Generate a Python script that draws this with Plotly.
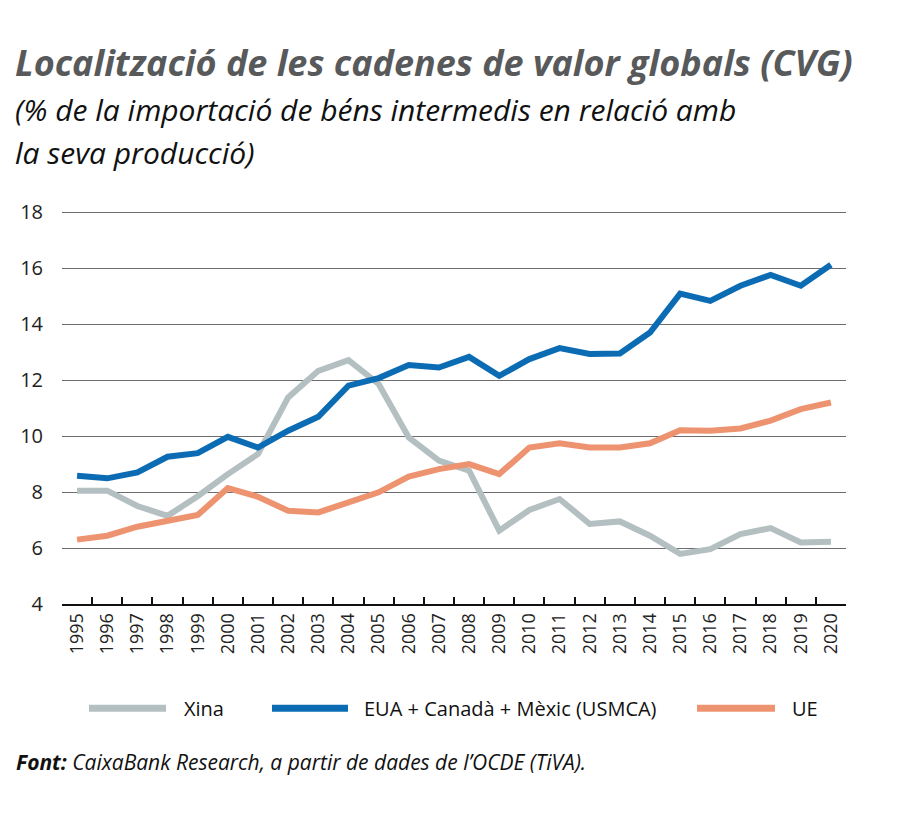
import plotly.graph_objects as go

years = [str(y) for y in range(1995, 2021)]
xina = [8.05, 8.05, 7.5, 7.15, 7.85, 8.64, 9.36, 11.38, 12.33, 12.71, 11.86, 9.95, 9.12, 8.76,
        6.62, 7.36, 7.75, 6.86, 6.95, 6.44, 5.79, 5.96, 6.5, 6.71, 6.2, 6.22]
usmca = [8.58, 8.49, 8.7, 9.26, 9.39, 9.97, 9.59, 10.19, 10.69, 11.8, 12.07, 12.54, 12.45, 12.83,
         12.15, 12.75, 13.14, 12.93, 12.95, 13.7, 15.09, 14.83, 15.37, 15.76, 15.37, 16.12]
ue = [6.3, 6.44, 6.76, 6.97, 7.18, 8.14, 7.83, 7.33, 7.27, 7.63, 7.99, 8.55, 8.82, 9.0,
      8.64, 9.59, 9.74, 9.59, 9.59, 9.74, 10.21, 10.19, 10.27, 10.55, 10.96, 11.2]
series_names = ["Xina", "EUA + Canadà + Mèxic (USMCA)", "UE"]
series_values = [xina, usmca, ue]
colors = ["#b4bfc2", "#0b6cb4", "#ee9370"]
y_ticks = [4, 6, 8, 10, 12, 14, 16, 18]

W, H = 900, 816
L, R, T, B = 62, 54, 212, 212
PW, PH = W - L - R, H - T - B


def px(x):
    return (x - L) / PW


def py(y):
    return (H - B - y) / PH


fig = go.Figure()
for name, vals, c in zip(series_names, series_values, colors):
    fig.add_trace(go.Scatter(x=years, y=vals, mode="lines", name=name,
                             line=dict(color=c, width=6), showlegend=False))

FONT = "Open Sans"
fig.update_layout(
    width=W, height=H,
    margin=dict(l=L, r=R, t=T - 1, b=B),
    paper_bgcolor="white", plot_bgcolor="white",
    font=dict(family=FONT, color="#222"),
    xaxis=dict(type="category", tickson="boundaries", ticks="inside", ticklen=7,
               tickcolor="#111", tickwidth=1.5, showline=True, linecolor="#111",
               linewidth=2, showgrid=False, tickangle=-90,
               tickfont=dict(size=18, color="#222"), range=[-0.5, 25.5]),
    yaxis=dict(range=[4, 18.04], tickvals=y_ticks, showgrid=True, gridcolor="#6d6d6d",
               gridwidth=1, zeroline=False, showline=False, ticks="",
               tickfont=dict(size=20, color="#222"), ticklabelstandoff=18),
)

ann = []
ann.append(dict(text="<b><i>Localització de les cadenes de valor globals (CVG)</i></b>",
                x=px(13), y=py(64), xref="paper", yref="paper", xanchor="left",
                yanchor="middle", showarrow=False,
                font=dict(family=FONT, size=36, color="#58595b")))
ann.append(dict(text="<i>(% de la importació de béns intermedis en relació amb</i>",
                x=px(13), y=py(111), xref="paper", yref="paper", xanchor="left",
                yanchor="middle", showarrow=False,
                font=dict(family=FONT, size=30, color="#111")))
ann.append(dict(text="<i>la seva producció)</i>",
                x=px(13), y=py(154), xref="paper", yref="paper", xanchor="left",
                yanchor="middle", showarrow=False,
                font=dict(family=FONT, size=30, color="#111")))
ann.append(dict(text="<b><i>Font:</i></b><i> CaixaBank Research, a partir de dades de l’OCDE (TiVA).</i>",
                x=px(14), y=py(762), xref="paper", yref="paper", xanchor="left",
                yanchor="middle", showarrow=False,
                font=dict(family=FONT, size=21, color="#111")))

legend_pos = [(89, 166, 182), (272, 348, 362), (697, 775, 790)]
shapes = []
for (x0, x1, tx), name, c in zip(legend_pos, series_names, colors):
    shapes.append(dict(type="line", xref="paper", yref="paper", x0=px(x0), x1=px(x1),
                       y0=py(708), y1=py(708), line=dict(color=c, width=7)))
    ann.append(dict(text=name, x=px(tx), y=py(708), xref="paper", yref="paper",
                    xanchor="left", yanchor="middle", showarrow=False,
                    font=dict(family=FONT, size=20, color="#111")))

fig.update_layout(annotations=ann, shapes=shapes)
fig.write_html("out.html")
